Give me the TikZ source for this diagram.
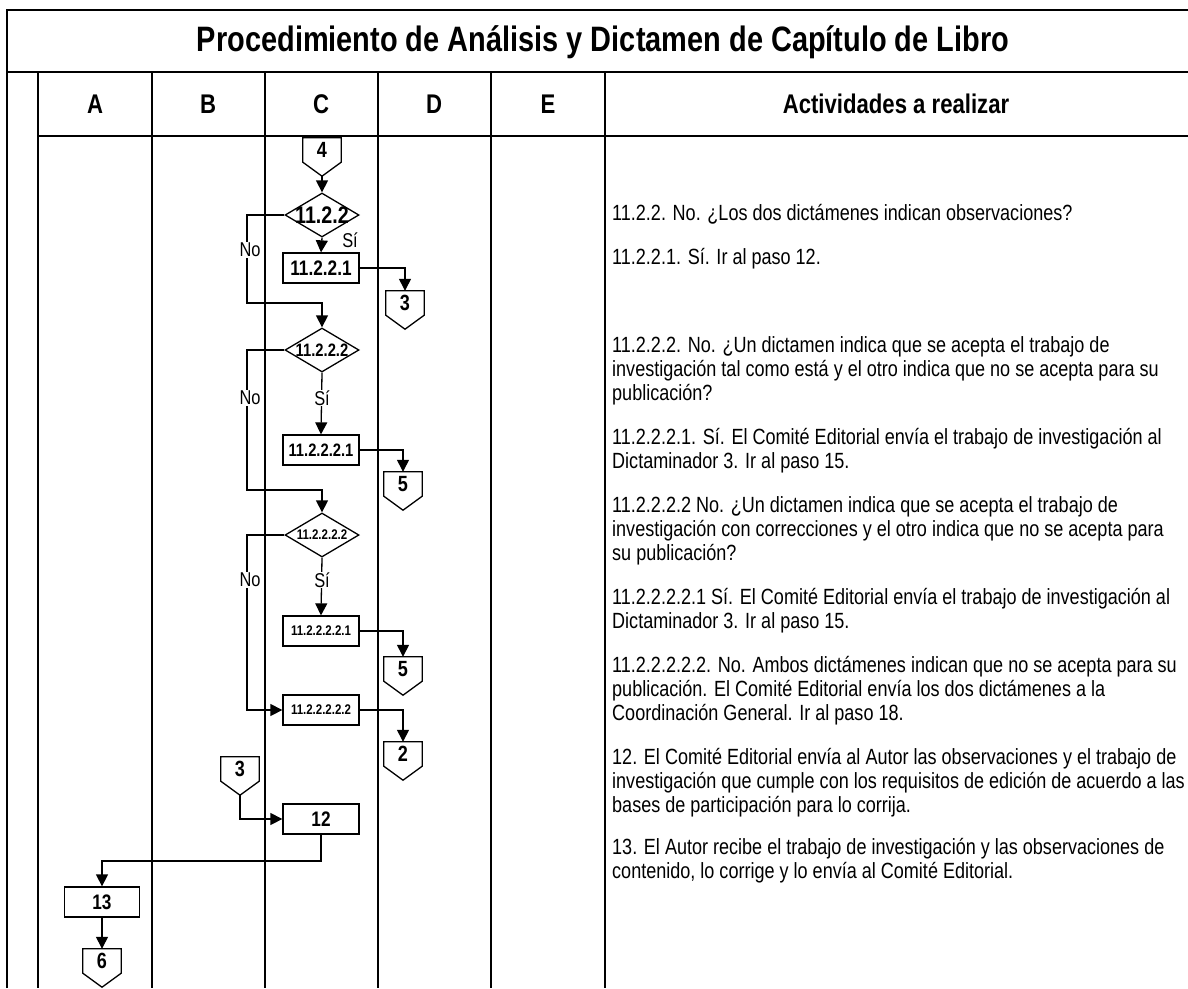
\documentclass[tikz,border=0pt]{standalone}
\usepackage{fontspec}
\setmainfont[FakeStretch=0.82]{Liberation Sans}
\usetikzlibrary{shapes.geometric,arrows.meta}

% conector fuera de pagina: nombre, posicion, numero
\newcommand{\conector}[3]{%
  \node[conec] (#1) at (#2) {#3};
  \draw[linea] (#1.north west) -- (#1.north east) -- (#1.south east)
    -- ([yshift=-14pt]#1.south) -- (#1.south west) -- cycle;
  \coordinate (#1-p) at ([yshift=-14pt]#1.south);
}

\begin{document}
\begin{tikzpicture}[x=1pt,y=-1pt,
    linea/.style={line width=1.3pt},
    rejilla/.style={line width=1.6pt},
    flecha/.style={linea,-{Triangle[length=12pt,width=12pt]}},
    caja/.style={draw,linea,minimum width=76pt,minimum height=30pt,inner sep=0pt,
      font=\bfseries\fontsize{21}{21}\selectfont},
    cajachica/.style={caja,font=\bfseries\fontsize{14}{14}\selectfont},
    decision/.style={diamond,draw,linea,minimum width=74pt,minimum height=44pt,inner sep=0pt},
    conec/.style={minimum width=38pt,minimum height=24pt,inner sep=0pt,
      font=\bfseries\fontsize{22}{22}\selectfont},
    etiq/.style={fill=white,inner sep=1pt,font=\fontsize{20}{20}\selectfont},
    texto/.style={anchor=base west,inner sep=0pt,font=\fontsize{22}{22}\selectfont},
    encab/.style={font=\bfseries\fontsize{27}{27}\selectfont},
    titulo/.style={font=\bfseries\fontsize{35.3}{35.3}\selectfont}]
  \useasboundingbox (0,0) rectangle (1188,988);

  % tabla
  \draw[rejilla] (7,988) -- (7,10) -- (1188,10);
  \draw[rejilla] (7,72) -- (1188,72);
  \draw[rejilla] (38,136) -- (1188,136);
  \foreach \x in {38,152,265,378,491,605}
    \draw[rejilla] (\x,72) -- (\x,988);

  \node[titulo] (tit) at (603,42) {Procedimiento de Análisis y Dictamen de Capítulo de Libro};
  \foreach \x/\l in {95/A,208/B,321/C,434/D,548/E}
    \node[encab] (col\l) at (\x,104) {\l};
  \node[encab] (colAct) at (896,104) {Actividades a realizar};

  % diagrama
  \conector{c4}{322,150}{4}
  \node[decision,label={[font=\bfseries\fontsize{24}{24}\selectfont]center:11.2.2}] (d1) at (322,215) {};
  \node[caja] (b1) at (321,268) {11.2.2.1};
  \conector{c3a}{405,303}{3}
  \node[decision,label={[font=\bfseries\fontsize{18}{18}\selectfont]center:11.2.2.2}] (d2) at (322,350) {};
  \node[caja,font=\bfseries\fontsize{18}{18}\selectfont] (b2) at (321,450) {11.2.2.2.1};
  \conector{c5a}{403,484}{5}
  \node[decision,label={[font=\bfseries\fontsize{14}{14}\selectfont]center:11.2.2.2.2}] (d3) at (322,535) {};
  \node[cajachica] (b3) at (321,631) {11.2.2.2.2.1};
  \conector{c5b}{403,669}{5}
  \node[cajachica] (b4) at (321,710) {11.2.2.2.2.2};
  \conector{c2}{403,754}{2}
  \conector{c3b}{240,769}{3}
  \node[caja] (b12) at (321,819) {12};
  \node[caja,minimum width=75pt] (b13) at (102,902) {13};
  \conector{c6}{102,961}{6}

  \coordinate (no1) at (247,303);
  \coordinate (no2) at (247,490);
  \coordinate (no3) at (247,710);
  \coordinate (codo13) at (102,861);

  \draw[flecha] (c4-p) -- (d1.north);
  \draw[flecha] (d1.south) -- (b1.north);
  \draw[flecha] (b1.east) -| (c3a.north);
  \draw[flecha] (d1.west) -| (no1) -| (d2.north);
  \draw[flecha] (d2.south) -- (b2.north);
  \draw[flecha] (b2.east) -| (c5a.north);
  \draw[flecha] (d2.west) -| (no2) -| (d3.north);
  \draw[flecha] (d3.south) -- (b3.north);
  \draw[flecha] (b3.east) -| (c5b.north);
  \draw[flecha] (d3.west) -| (no3) -- (b4.west);
  \draw[flecha] (b4.east) -| (c2.north);
  \draw[flecha] (c3b-p) |- (b12.west);
  \draw[flecha] (b12.south) |- (codo13) -- (b13.north);
  \draw[flecha] (b13.south) -- (c6.north);

  \node[etiq,fill=none] (si1) at (350,240) {Sí};
  \node[etiq] (si2) at (322,398) {Sí};
  \node[etiq] (si3) at (322,580) {Sí};
  \node[etiq] (n1) at (250,250) {No};
  \node[etiq] (n2) at (250,398) {No};
  \node[etiq] (n3) at (250,580) {No};

  % actividades
  \foreach \y/\t [count=\i] in {
    220/{11.2.2. No. ¿Los dos dictámenes indican observaciones?},
    264/{11.2.2.1. Sí. Ir al paso 12.},
    352/{11.2.2.2. No. ¿Un dictamen indica que se acepta el trabajo de},
    376/{investigación tal como está y el otro indica que no se acepta para su},
    400/{publicación?},
    444/{11.2.2.2.1. Sí. El Comité Editorial envía el trabajo de investigación al},
    468/{Dictaminador 3. Ir al paso 15.},
    512/{11.2.2.2.2 No. ¿Un dictamen indica que se acepta el trabajo de},
    536/{investigación con correcciones y el otro indica que no se acepta para},
    560/{su publicación?},
    604/{11.2.2.2.2.1 Sí. El Comité Editorial envía el trabajo de investigación al},
    628/{Dictaminador 3. Ir al paso 15.},
    672/{11.2.2.2.2.2. No. Ambos dictámenes indican que no se acepta para su},
    696/{publicación. El Comité Editorial envía los dos dictámenes a la},
    720/{Coordinación General. Ir al paso 18.},
    764/{12. El Comité Editorial envía al Autor las observaciones y el trabajo de},
    788/{investigación que cumple con los requisitos de edición de acuerdo a las},
    812/{bases de participación para lo corrija.},
    854/{13. El Autor recibe el trabajo de investigación y las observaciones de},
    878/{contenido, lo corrige y lo envía al Comité Editorial.}}
    \node[texto] (t\i) at (612,\y) {\t};
\end{tikzpicture}
\end{document}
